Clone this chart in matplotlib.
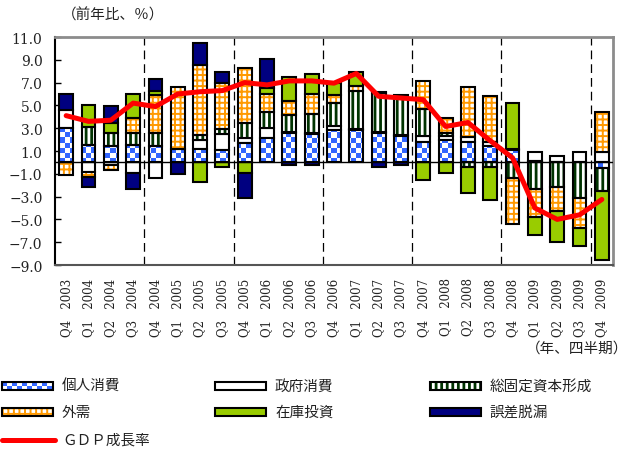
import numpy as np
import matplotlib
matplotlib.use("Agg")
import matplotlib.pyplot as plt
from matplotlib.colors import ListedColormap
from matplotlib.patches import Rectangle
from matplotlib.font_manager import FontProperties

plt.rcParams['font.family'] = ['Noto Sans CJK JP', 'DejaVu Sans']
plt.rcParams['hatch.linewidth'] = 1.4

# ---- data: contribution to real GDP growth (y/y, %) ----
quarters = ["Q4", "Q1", "Q2", "Q3", "Q4", "Q1", "Q2", "Q3", "Q4",
            "Q1", "Q2", "Q3", "Q4", "Q1", "Q2", "Q3", "Q4",
            "Q1", "Q2", "Q3", "Q4", "Q1", "Q2", "Q3", "Q4"]
years = ["2003", "2004", "2004", "2004", "2004", "2005", "2005", "2005", "2005",
         "2006", "2006", "2006", "2006", "2007", "2007", "2007", "2007",
         "2008", "2008", "2008", "2008", "2009", "2009", "2009", "2009"]

consumption = [3.0, 1.5, 1.45, 1.55, 1.4, 1.15, 1.15, 1.1, 1.7,
               2.1, 2.55, 2.5, 2.85, 2.85, 2.55, 2.3, 1.75,
               2.0, 1.75, 1.4, 1.1, 0.15, 0.05, 0.0, -0.5]
government = [1.6, -0.8, -0.2, -0.95, -1.4, 0.0, 0.8, 1.4, 0.4,
              0.95, 0.1, 0.1, 0.35, 0.1, 0.1, 0.1, 0.55,
              0.3, 0.45, 0.4, 0.1, 0.75, 0.55, 0.95, 0.95]
investment = [0.0, 1.6, 1.1, 1.0, 1.15, 0.0, 0.45, 0.4, 1.35,
              1.4, 1.5, 1.65, 2.05, 3.35, 3.4, 3.25, 2.35,
              0.25, -0.4, -0.4, -1.4, -2.35, -2.2, -3.1, -2.0]
net_exports = [-1.1, -0.45, -0.5, 1.35, 3.35, 5.5, 6.15, 4.05, 4.8,
               1.55, 1.25, 1.75, 0.65, 0.4, 0.15, 0.3, 2.5,
               1.35, 4.4, 4.0, -4.0, -2.45, -2.1, -2.65, 3.5]
inventory = [0.0, 1.9, 0.9, 2.1, 0.4, 0.0, -1.75, -0.4, -0.9,
             0.55, 2.1, 1.75, 1.05, 1.2, 0.0, 0.0, -1.55,
             -0.9, -2.3, -2.9, 4.0, -1.55, -2.7, -1.55, -6.05]
discrepancy = [1.4, -0.9, 1.5, -1.35, 1.0, -1.0, 1.9, 1.0, -2.2,
               2.5, -0.2, -0.25, 0.0, 0.0, -0.4, -0.25, 0.0,
               0.0, 0.0, 0.0, 0.0, 0.0, 0.0, 0.0, 0.0]
gdp_growth = [4.1, 3.6, 3.7, 5.2, 4.9, 6.0, 6.2, 6.3, 7.0,
              6.8, 7.15, 7.15, 6.95, 7.8, 5.8, 5.65, 5.5,
              3.15, 3.5, 1.9, 0.4, -4.0, -5.0, -4.6, -3.25]

series_labels = ["個人消費", "政府消費", "総固定資本形成", "外需", "在庫投資", "誤差脱漏"]
line_label = "ＧＤＰ成長率"

ytick_values = [11, 9, 7, 5, 3, 1, -1, -3, -5, -7, -9]
ytick_labels = ["11.0", "9.0", "7.0", "5.0", "3.0", "1.0",
                "−1.0", "−3.0", "−5.0", "−7.0", "−9.0"]

# ---- styling ----
BLUE = "#3366FF"
ORANGE = "#FF9900"
GREEN_DARK = "#003300"
LIME = "#99CC00"
NAVY = "#000080"
EDGE_LW = 1.5
BAR_W = 0.62
TEXT_C = "#222222"

styles = [
    dict(kind="checker", color=BLUE),
    dict(kind="plain", color="white"),
    dict(kind="hatch", color=GREEN_DARK, hatch="|||", hlw=2.0),
    dict(kind="hatch", color=ORANGE, hatch="+++", hlw=1.4),
    dict(kind="plain", color=LIME),
    dict(kind="plain", color=NAVY),
]

W, H = 630, 452
fig = plt.figure(figsize=(W / 100, H / 100), dpi=100)
ax = fig.add_axes([55 / W, 1 - 266 / H, 558 / W, 228 / H])

checker_cmap = ListedColormap(["white", BLUE])
cell = 5  # pixel size of a checker cell
ax_w_px, ax_h_px = 558, 228
checker = (np.add.outer(np.arange(ax_h_px // cell), np.arange(ax_w_px // cell)) % 2).astype(float)


def add_checker(axes, rect, extent, transform, arr):
    im = axes.imshow(arr, cmap=checker_cmap, interpolation="nearest", origin="lower",
                     extent=extent, transform=transform, aspect="auto", zorder=2.2,
                     vmin=0, vmax=1)
    im.set_clip_path(rect)


n = len(quarters)
x = np.arange(n)
pos_base = np.zeros(n)
neg_base = np.zeros(n)
all_series = [consumption, government, investment, net_exports, inventory, discrepancy]

for vals, st in zip(all_series, styles):
    v = np.asarray(vals, dtype=float)
    bottom = np.where(v >= 0, pos_base, neg_base)
    m = v != 0
    xs, hs, bs = x[m], v[m], bottom[m]
    if st["kind"] == "plain":
        ax.bar(xs, hs, BAR_W, bs, facecolor=st["color"], edgecolor="black",
               linewidth=EDGE_LW, zorder=2)
    elif st["kind"] == "hatch":
        with plt.rc_context({"hatch.linewidth": st["hlw"]}):
            bars = ax.bar(xs, hs, BAR_W, bs, facecolor="white", edgecolor=st["color"],
                          hatch=st["hatch"], linewidth=0, zorder=2)
            for r in bars.patches:
                if hasattr(r, "set_hatch_linewidth"):
                    r.set_hatch_linewidth(st["hlw"])
        ax.bar(xs, hs, BAR_W, bs, fill=False, edgecolor="black",
               linewidth=EDGE_LW, zorder=3)
    else:
        bars = ax.bar(xs, hs, BAR_W, bs, facecolor="white", edgecolor="none",
                      linewidth=0, zorder=2)
        for r in bars.patches:
            add_checker(ax, r, (0, 1, 0, 1), ax.transAxes, checker)
        ax.bar(xs, hs, BAR_W, bs, fill=False, edgecolor="black",
               linewidth=EDGE_LW, zorder=3)
    pos_base += np.where(v > 0, v, 0)
    neg_base += np.where(v < 0, v, 0)

# year separators before each Q4
for i, q in enumerate(quarters):
    if q == "Q4" and i > 0:
        ax.axvline(i - 0.5, color="black", lw=0.9, ls=(0, (7, 4)), zorder=1)

ax.axhline(0, color="black", lw=1.0, zorder=4)
ax.plot(x, gdp_growth, color="#FF0000", lw=3.6, solid_capstyle="round",
        solid_joinstyle="round", zorder=5)

ax.set_xlim(-0.5, n - 0.5)
ax.set_ylim(-9, 11)
ax.set_yticks(ytick_values)
ax.set_yticklabels(ytick_labels)
ax.set_xticks(x)
ax.set_xticklabels([f"{q}   {y}" for q, y in zip(quarters, years)], rotation=90)
ax.tick_params(axis="y", direction="in", length=4, width=1, pad=9)
ax.tick_params(axis="x", length=0, pad=9)

serif_y = FontProperties(family=["DejaVu Serif", "Liberation Serif"], size=10)
serif_x = FontProperties(family=["DejaVu Serif", "Liberation Serif"], size=8.5)
for t in ax.get_yticklabels():
    t.set_fontproperties(serif_y)
    t.set_color(TEXT_C)
for t in ax.get_xticklabels():
    t.set_fontproperties(serif_x)
    t.set_color(TEXT_C)

for side in ("top", "right"):
    ax.spines[side].set_color("#8c8c8c")
    ax.spines[side].set_linewidth(2)
ax.spines["bottom"].set_color("#555555")
ax.spines["bottom"].set_linewidth(1.5)
ax.spines["left"].set_color("black")
ax.spines["left"].set_linewidth(1.5)

fig.text(62 / W, 1 - 15 / H, "（前年比、％）", fontsize=10.5, ha="left", va="center",
         color=TEXT_C)
fig.text(628 / W, 1 - 349 / H, "（年、四半期）", fontsize=10.5, ha="right", va="center",
         color=TEXT_C)

# ---- legend drawn in pixel coordinates ----
lax = fig.add_axes([0, 0, 1, 1])
lax.set_xlim(0, W)
lax.set_ylim(H, 0)
lax.axis("off")

slots = [(2, 387), (215, 387), (430, 387), (2, 413), (215, 413), (430, 413)]
pw, ph = 51, 8
for (px, py), lab, st in zip(slots, series_labels, styles):
    y0 = py - ph / 2
    if st["kind"] == "plain":
        lax.add_patch(Rectangle((px, y0), pw, ph, facecolor=st["color"], edgecolor="black",
                                linewidth=EDGE_LW, zorder=2))
    elif st["kind"] == "hatch":
        with plt.rc_context({"hatch.linewidth": st["hlw"]}):
            hp = Rectangle((px, y0), pw, ph, facecolor="white", edgecolor=st["color"],
                           hatch=st["hatch"], linewidth=0, zorder=2)
            if hasattr(hp, "set_hatch_linewidth"):
                hp.set_hatch_linewidth(st["hlw"])
            lax.add_patch(hp)
        lax.add_patch(Rectangle((px, y0), pw, ph, fill=False, edgecolor="black",
                                linewidth=EDGE_LW, zorder=3))
    else:
        r = Rectangle((px, y0), pw, ph, facecolor="white", edgecolor="none", zorder=2)
        lax.add_patch(r)
        arr = (np.add.outer(np.arange(2), np.arange(11)) % 2).astype(float)
        add_checker(lax, r, (px, px + 55, y0 + ph, y0), lax.transData, arr)
        lax.add_patch(Rectangle((px, y0), pw, ph, fill=False, edgecolor="black",
                                linewidth=EDGE_LW, zorder=3))
    lax.text(px + 60, py, lab, fontsize=10.5, ha="left", va="center", color=TEXT_C)

lax.plot([2, 55], [441, 441], color="#FF0000", lw=3.6, solid_capstyle="round")
lax.text(62, 441, line_label, fontsize=10.5, ha="left", va="center", color=TEXT_C)
lax.set_xlim(0, W)
lax.set_ylim(H, 0)

fig.savefig("out.png", dpi=100)
